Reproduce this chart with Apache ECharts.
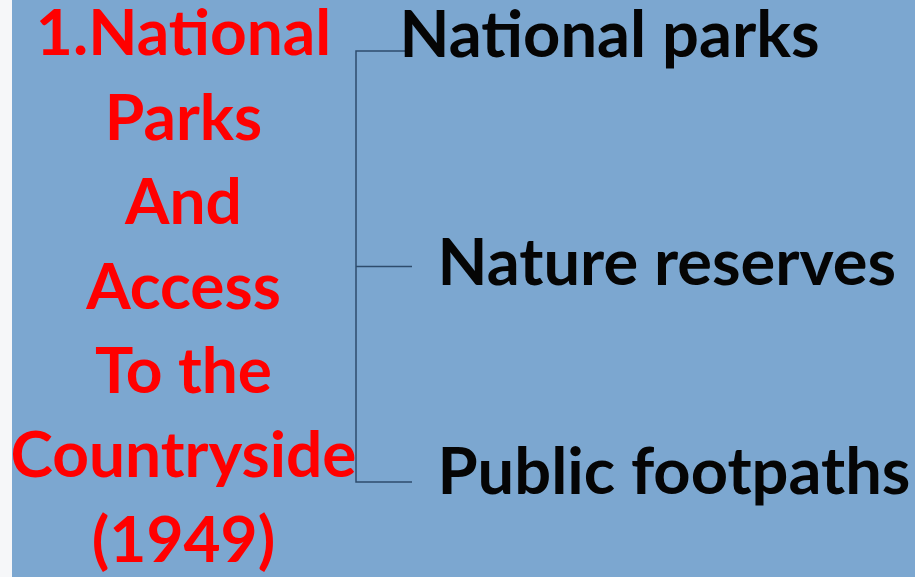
<!DOCTYPE html>
<html><head><meta charset="utf-8">
<script src="https://cdn.jsdelivr.net/npm/echarts@6/dist/echarts.min.js"></script>
<style>html,body{margin:0;padding:0;background:#7ca7d0}#c{width:915px;height:577px}</style>
</head><body><div id="c"></div>
<script>
// ---- content ----
const titleLines = ['1.National', 'Parks', 'And', 'Access', 'To the', 'Countryside', '(1949)'];
const branchItems = ['National parks', 'Nature reserves', 'Public footpaths'];

// ---- style / layout (kept separate from the content) ----
const FONT = 'Lato';
const leafLabelShift = [[-13, -15], [25, -2], [25, -9]];

const treeData = {
  name: titleLines.join('\n'),
  symbolSize: 1,
  label: {
    show: true,
    position: [-172, 22],
    align: 'center',
    verticalAlign: 'middle',
    color: '#ff0000',
    fontFamily: FONT,
    fontWeight: 'bold',
    fontSize: 64,
    lineHeight: 84.4
  },
  children: branchItems.map(function (name, i) {
    return {
      name: name,
      symbolSize: 1,
      label: {
        show: true,
        position: 'right',
        distance: 0,
        offset: leafLabelShift[i],
        align: 'left',
        verticalAlign: 'middle',
        color: '#050505',
        fontFamily: FONT,
        fontWeight: 'bold',
        fontSize: 65
      }
    };
  })
};

const chart = echarts.init(document.getElementById('c'), null, { renderer: 'canvas' });
chart.setOption({
  backgroundColor: '#7ca7d0',
  animation: false,
  graphic: [{
    type: 'rect',
    left: 0, top: 0,
    shape: { width: 12, height: 577 },
    style: { fill: '#f6f7f9' },
    z: -1
  }],
  series: [{
    type: 'tree',
    orient: 'LR',
    left: 356,
    width: 56,
    top: -56.75,
    height: 646.5,
    roam: false,
    expandAndCollapse: false,
    edgeShape: 'polyline',
    edgeForkPosition: '0%',
    symbol: 'circle',
    symbolSize: 1,
    itemStyle: { color: 'rgba(0,0,0,0)', borderWidth: 0 },
    lineStyle: { color: '#2e4c6c', width: 1.5, curveness: 0 },
    emphasis: { disabled: true },
    data: [treeData]
  }]
});
</script>
</body></html>
